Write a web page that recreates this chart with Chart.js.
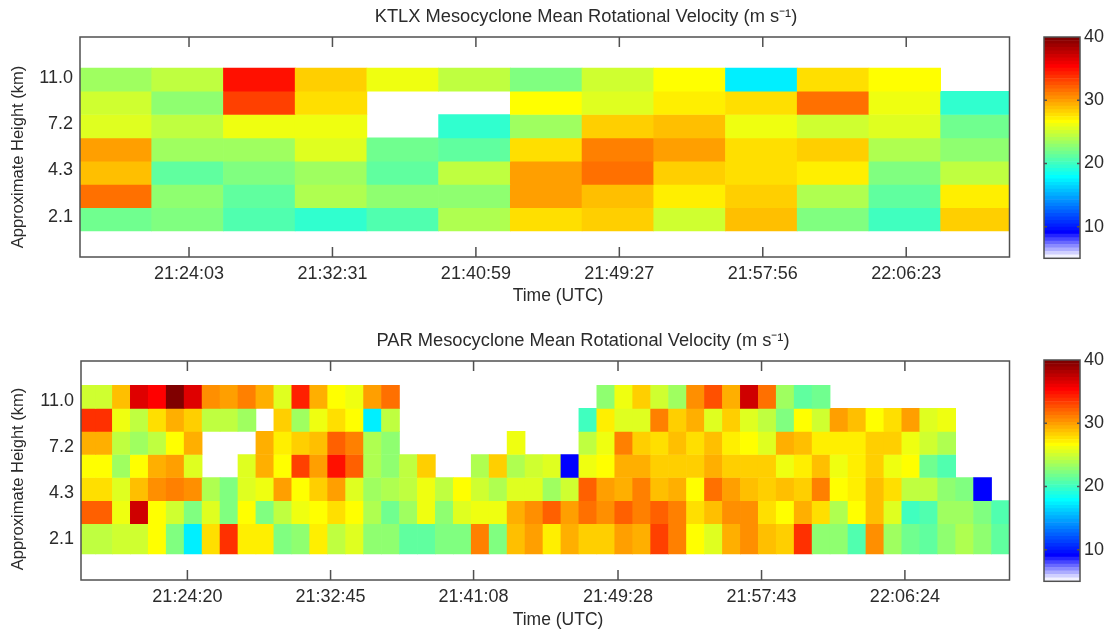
<!DOCTYPE html>
<html>
<head>
<meta charset="utf-8">
<title>Mesocyclone Mean Rotational Velocity</title>
<script src="https://cdn.jsdelivr.net/npm/chart.js@4"></script>
<style>
  html, body { margin: 0; padding: 0; background: #fff; overflow: hidden; }
  canvas { position: absolute; }
</style>
</head>
<body>
<canvas id="ktlxChart" style="left:0;top:0"></canvas>
<canvas id="ktlxBar" style="left:1030px;top:0"></canvas>
<canvas id="parChart" style="left:0;top:320px"></canvas>
<canvas id="parBar" style="left:1030px;top:323px"></canvas>
<script>
const n = null;

const heightLabels = ['2.1', '4.3', '7.2', '11.0'];
const barTicks = [10, 20, 30, 40];

// KTLX, one column per volume scan
const ktlxScans = [0, 1, 2, 3, 4, 5, 6, 7, 8, 9, 10, 11, 12];
const ktlxTickScans = [1.02, 3.02, 5.02, 7.02, 9.02, 11.02];
const ktlxTickLabels = ['21:24:03', '21:32:31', '21:40:59', '21:49:27', '21:57:56', '22:06:23'];
const ktlxRowEdges = [0, 1, 2, 3, 4, 5, 6, 7];
const ktlxHeightTicks = [0.6, 2.6, 4.58, 6.58];
// top row (highest) first
const ktlxRows = [
  [23.5, 24.5, 35, 28.3, 26.2, 24.5, 22.4, 25, 26.7, 17.5, 27.8, 26.7, n],
  [25, 22.9, 33.2, 27.8, n, n, 26.7, 25.4, 27.2, 27.8, 31.6, 25.8, 19.6],
  [25.7, 24.5, 26.2, 26.2, n, 19.6, 23.5, 28.3, 28.6, 26, 25, 25.7, 21.8],
  [30, 23.5, 23.5, 25.7, 21.8, 21.2, 27.8, 31.1, 30, 27.8, 28.3, 24, 22.9],
  [28.9, 21.2, 22.4, 23.5, 21.2, 24.5, 30, 31.6, 28.3, 27.8, 27.2, 22.4, 24.5],
  [31.6, 22.9, 21.2, 24, 22.9, 22.9, 30, 28.9, 27.2, 28.3, 24, 21.2, 27.2],
  [21.8, 22.4, 20.6, 19.6, 20.6, 24, 27.8, 28.3, 25, 28.9, 22.4, 20.2, 28.3]
];

// PAR, the first two entries are the wide scan at the left edge
const parScans = [-0.85, 0, 1, 2, 3, 4, 5, 6, 7, 8, 9, 10, 11, 12, 13, 14, 15, 16, 17, 18, 19, 20, 21, 22, 23, 24, 25,
  26, 27, 28, 29, 30, 31, 32, 33, 34, 35, 36, 37, 38, 39, 40, 41, 42, 43, 44, 45, 46, 47, 48, 49, 50];
const parTickScans = [4.68, 12.66, 20.63, 28.68, 36.68, 44.67];
const parTickLabels = ['21:24:20', '21:32:45', '21:41:08', '21:49:28', '21:57:43', '22:06:24'];
const parRowEdges = [0, 1.31, 2.31, 3.31, 4.31, 5.31, 6.31, 7.31];
const parHeightTicks = [0.65, 2.64, 4.64, 6.63];
const parRows = [
  [25, 25, 28.9, 36.5, 35.5, 40, 36.5, 30.5, 30, 31.1, 29.4, 25.7, 34.3, 29.4, 26.7, 26.2, 30, 31.6,
    n, n, n, n, n, n, n, n, n, n, n,
    22.9, 26.2, 28.3, 25, 23.5, 30.5, 32.7, 29.4, 37.1, 31.6, 23.5, 21.2, 21.8,
    n, n, n, n, n, n, n, n, n, n],
  [33.8, 33.8, 26.2, 24.5, 27.8, 29.4, 28, 24.5, 24.5, 23.5, n, 28.3, 23.5, 26, 27.8, 26.7, 17.3, 24.5,
    n, n, n, n, n, n, n, n, n, n,
    20.2, 27.2, 25.7, 25.7, 31.1, 28.3, 29.4, 25.7, 28.3, 25.7, 24.5, 22.4, 26.7, 25, 30, 28.9, 26.7, 27.8, 30, 25.7, 26,
    n, n, n],
  [29.4, 29.4, 24.5, 23.5, 24.5, 26.7, 29.4, n, n, n, 29.4, 27.2, 28.3, 28.9, 32.2, 31.1, 24, 22.9,
    n, n, n, n, n, n, 26.2, n, n, n,
    24.5, 26, 31.1, 28.3, 27.8, 28.9, 27.8, 28.9, 27.2, 26.7, 25.7, 29.4, 28.9, 27.2, 27.2, 27.2, 28.3, 28.3, 26, 25, 24,
    n, n, n],
  [26.7, 26.7, 23.5, 26.7, 29.4, 30, 25.7, n, n, 25.7, 29.4, 26.7, 33.2, 30, 35, 32.2, 24, 22.9,
    24.5, 28.3, n, n, 24, 28.3, 24, 25, 25.7, 9.3,
    26, 26.7, 29.4, 29.4, 28.3, 28.3, 28.3, 29.4, 28.3, 28.3, 28, 26.2, 27.2, 28.6, 26, 27.2, 28, 26, 26.7, 21.8, 20.6,
    n, n, n],
  [27.8, 27.8, 25.7, 28.9, 30.5, 31.1, 30.5, 24, 22.4, 25.7, 26, 30, 26.7, 28, 30, 25.7, 23.5, 24,
    24.5, 26.2, 24.5, 26.7, 25, 24, 25.7, 25.7, 23.5, 25,
    32.2, 30, 29.4, 31.1, 28.9, 29.4, 26.7, 31.6, 30, 28.9, 28.3, 28.9, 28.3, 31.1, 26.7, 27.2, 28.9, 27.8, 24.5, 24.5, 22.9, 22.4, 9.3, n],
  [32.2, 32.2, 25.8, 37.1, 26.7, 25, 22.4, 25.7, 22.4, 26.7, 22.4, 24.5, 26.2, 26.7, 27.8, 26.7, 24, 21.8,
    23.5, 26.2, 22.9, 25.7, 26.2, 26.2, 29.4, 30.5, 32.2, 30,
    31.6, 30.5, 32.2, 31.1, 32.2, 31.1, 27.8, 28.9, 30.5, 30.5, 27.8, 26.7, 29.4, 27.8, 24, 26.7, 28.9, 25.7, 20.2, 20.6, 23.5, 23.5, 22.4, 20.6],
  [24.5, 24.5, 25, 25, 26.7, 22.4, 17.5, 27.8, 33.8, 27.2, 27.2, 22.4, 22.9, 27.2, 24.5, 25.7, 22.9, 22.9,
    21.2, 21.2, 22.4, 22.4, 31.1, 22.4, 28.9, 30, 27.2, 29.4,
    28.3, 28, 30, 29.4, 33.2, 31.1, 26.7, 25.7, 29.4, 30.5, 28.9, 28.3, 33.8, 22.9, 22.9, 20.6, 30.5, 23.5, 21.8, 21.2, 22.9, 24, 22.9, 21.2]
];

const FONT = 'Arial, "Liberation Sans", sans-serif';
const TEXT = '#2b2b2b';
const FRAME = '#505050';
const scaleMin = 5, scaleMax = 40, levels = 64;

// jet with a white to blue tail at the low end, 64 steps like the original colorbar
function levelColor(i) {
  let r, g, b;
  if (i <= 7) { r = g = (7 - i) / 7 * 0.95; b = 1; }
  else if (i <= 23) { r = 0; g = (i - 7) / 16; b = 1; }
  else if (i <= 39) { r = (i - 23) / 16; g = 1; b = 1 - r; }
  else if (i <= 55) { r = 1; g = 1 - (i - 39) / 16; b = 0; }
  else { r = 1 - (i - 55) / 16; g = 0; b = 0; }
  return 'rgb(' + Math.round(r * 255) + ',' + Math.round(g * 255) + ',' + Math.round(b * 255) + ')';
}

function valueColor(v) {
  if (v === null) return 'rgba(0,0,0,0)';
  const i = Math.floor((v - scaleMin) / (scaleMax - scaleMin) * levels);
  return levelColor(Math.max(0, Math.min(levels - 1, i)));
}

// frame, inward ticks and the text MATLAB puts off centre
const framePlugin = {
  id: 'frame',
  afterDraw(chart, args, opts) {
    const { ctx, chartArea: a } = chart;
    ctx.save();
    ctx.strokeStyle = FRAME;
    ctx.lineWidth = 1.5;
    ctx.strokeRect(a.left, a.top, a.right - a.left, a.bottom - a.top);
    ctx.beginPath();
    if (opts.xTicks) {
      chart.scales.x.ticks.forEach(t => {
        const x = chart.scales.x.getPixelForValue(t.value);
        ctx.moveTo(x, a.top); ctx.lineTo(x, a.top + 10);
        ctx.moveTo(x, a.bottom); ctx.lineTo(x, a.bottom - 10);
      });
    }
    if (opts.yTicks) {
      chart.scales.y.ticks.forEach(t => {
        if (t.value >= chart.scales.y.max) return;
        const y = chart.scales.y.getPixelForValue(t.value);
        ctx.moveTo(a.left, y); ctx.lineTo(a.left + 3, y);
        ctx.moveTo(a.right, y); ctx.lineTo(a.right - 3, y);
      });
    }
    ctx.stroke();
    ctx.fillStyle = TEXT;
    ctx.textAlign = 'center';
    ctx.textBaseline = 'middle';
    if (opts.title) {
      ctx.font = '18.3px ' + FONT;
      ctx.fillText(opts.title, opts.titleX, opts.titleY);
      ctx.font = '17.5px ' + FONT;
      ctx.fillText('Time (UTC)', 558, opts.xTitleY);
      ctx.font = '16.5px ' + FONT;
      ctx.translate(18, opts.yTitleY);
      ctx.rotate(-Math.PI / 2);
      ctx.fillText('Approximate Height (km)', 0, 0);
    }
    ctx.restore();
  }
};

function heatChart(id, size, scans, rows, rowEdges, cfg) {
  const canvas = document.getElementById(id);
  canvas.width = size.w; canvas.height = size.h;
  canvas.style.width = size.w + 'px'; canvas.style.height = size.h + 'px';
  const datasets = rows.map((row, k) => {
    const r = rows.length - 1 - k;
    return {
      stack: 'cells',
      data: scans.map((s, i) => ({ x: s, y: row[i] === null ? null : [rowEdges[r], rowEdges[r + 1]] })),
      backgroundColor: row.map(valueColor),
      barThickness: 'flex',
      categoryPercentage: 1,
      barPercentage: 1,
      borderWidth: 0
    };
  });
  return new Chart(canvas, {
    type: 'bar',
    data: { datasets },
    plugins: [framePlugin],
    options: {
      responsive: false,
      animation: false,
      layout: { padding: { top: cfg.top, right: size.w - 1009.5 } },
      plugins: {
        legend: { display: false },
        tooltip: { enabled: false },
        title: { display: false },
        frame: { xTicks: true, title: cfg.title, titleX: cfg.titleX, titleY: cfg.titleY, xTitleY: cfg.xTitleY, yTitleY: cfg.yTitleY }
      },
      scales: {
        x: {
          type: 'linear',
          offset: false,
          min: cfg.xMin,
          max: cfg.xMax,
          grid: { display: false, drawTicks: false, offset: false },
          border: { display: false },
          afterBuildTicks(scale) { scale.ticks = cfg.xTicks.map(value => ({ value })); },
          afterFit(scale) { scale.height = size.h - size.bottom; },
          ticks: {
            autoSkip: false, maxRotation: 0, padding: 6, color: TEXT, font: { family: FONT, size: 18 },
            callback: (v, i) => cfg.xLabels[i]
          }
        },
        y: {
          stacked: false,
          min: cfg.yMin,
          max: cfg.yMax,
          grid: { display: false, drawTicks: false },
          border: { display: false },
          afterBuildTicks(scale) { scale.ticks = cfg.yTicks.map(value => ({ value })); },
          afterFit(scale) { scale.width = cfg.left; },
          ticks: {
            autoSkip: false, padding: 7, color: TEXT, font: { family: FONT, size: 18 },
            callback: (v, i) => heightLabels[i]
          }
        }
      }
    }
  });
}

function colorBar(id) {
  const canvas = document.getElementById(id);
  canvas.width = 79; canvas.height = 290;
  canvas.style.width = '79px'; canvas.style.height = '290px';
  const datasets = [];
  const step = (scaleMax - scaleMin) / levels;
  for (let i = 0; i < levels; i++) {
    datasets.push({
      data: [[scaleMin + i * step, scaleMin + (i + 1) * step]],
      backgroundColor: levelColor(i),
      grouped: false,
      categoryPercentage: 1,
      barPercentage: 1,
      borderWidth: 0
    });
  }
  return new Chart(canvas, {
    type: 'bar',
    data: { labels: [''], datasets },
    plugins: [framePlugin],
    options: {
      responsive: false,
      animation: false,
      layout: { padding: { left: 14, top: 37, bottom: 31.7 } },
      plugins: { legend: { display: false }, tooltip: { enabled: false }, frame: { yTicks: true } },
      scales: {
        x: { display: false },
        y: {
          position: 'right',
          min: scaleMin,
          max: scaleMax,
          grid: { display: false, drawTicks: false },
          border: { display: false },
          afterBuildTicks(scale) { scale.ticks = barTicks.map(value => ({ value })); },
          afterFit(scale) { scale.width = 29; },
          ticks: { padding: 4, color: TEXT, font: { family: FONT, size: 18 } }
        }
      }
    }
  });
}

heatChart('ktlxChart', { w: 1030, h: 310, bottom: 257 }, ktlxScans, ktlxRows, ktlxRowEdges, {
  top: 37, left: 80, xMin: -0.5, xMax: 12.46, yMin: -1.12, yMax: 8.33,
  xTicks: ktlxTickScans, xLabels: ktlxTickLabels, yTicks: ktlxHeightTicks,
  title: 'KTLX Mesocyclone Mean Rotational Velocity (m s\u207B\u00B9)', titleX: 586, titleY: 17, xTitleY: 296, yTitleY: 157
});
heatChart('parChart', { w: 1030, h: 312, bottom: 260 }, parScans, parRows, parRowEdges, {
  top: 41, left: 81, xMin: -1.25, xMax: 50.5, yMin: -1.13, yMax: 8.36,
  xTicks: parTickScans, xLabels: parTickLabels, yTicks: parHeightTicks,
  title: 'PAR Mesocyclone Mean Rotational Velocity (m s\u207B\u00B9)', titleX: 583, titleY: 21, xTitleY: 300, yTitleY: 159
});
colorBar('ktlxBar');
colorBar('parBar');
</script>
</body>
</html>
